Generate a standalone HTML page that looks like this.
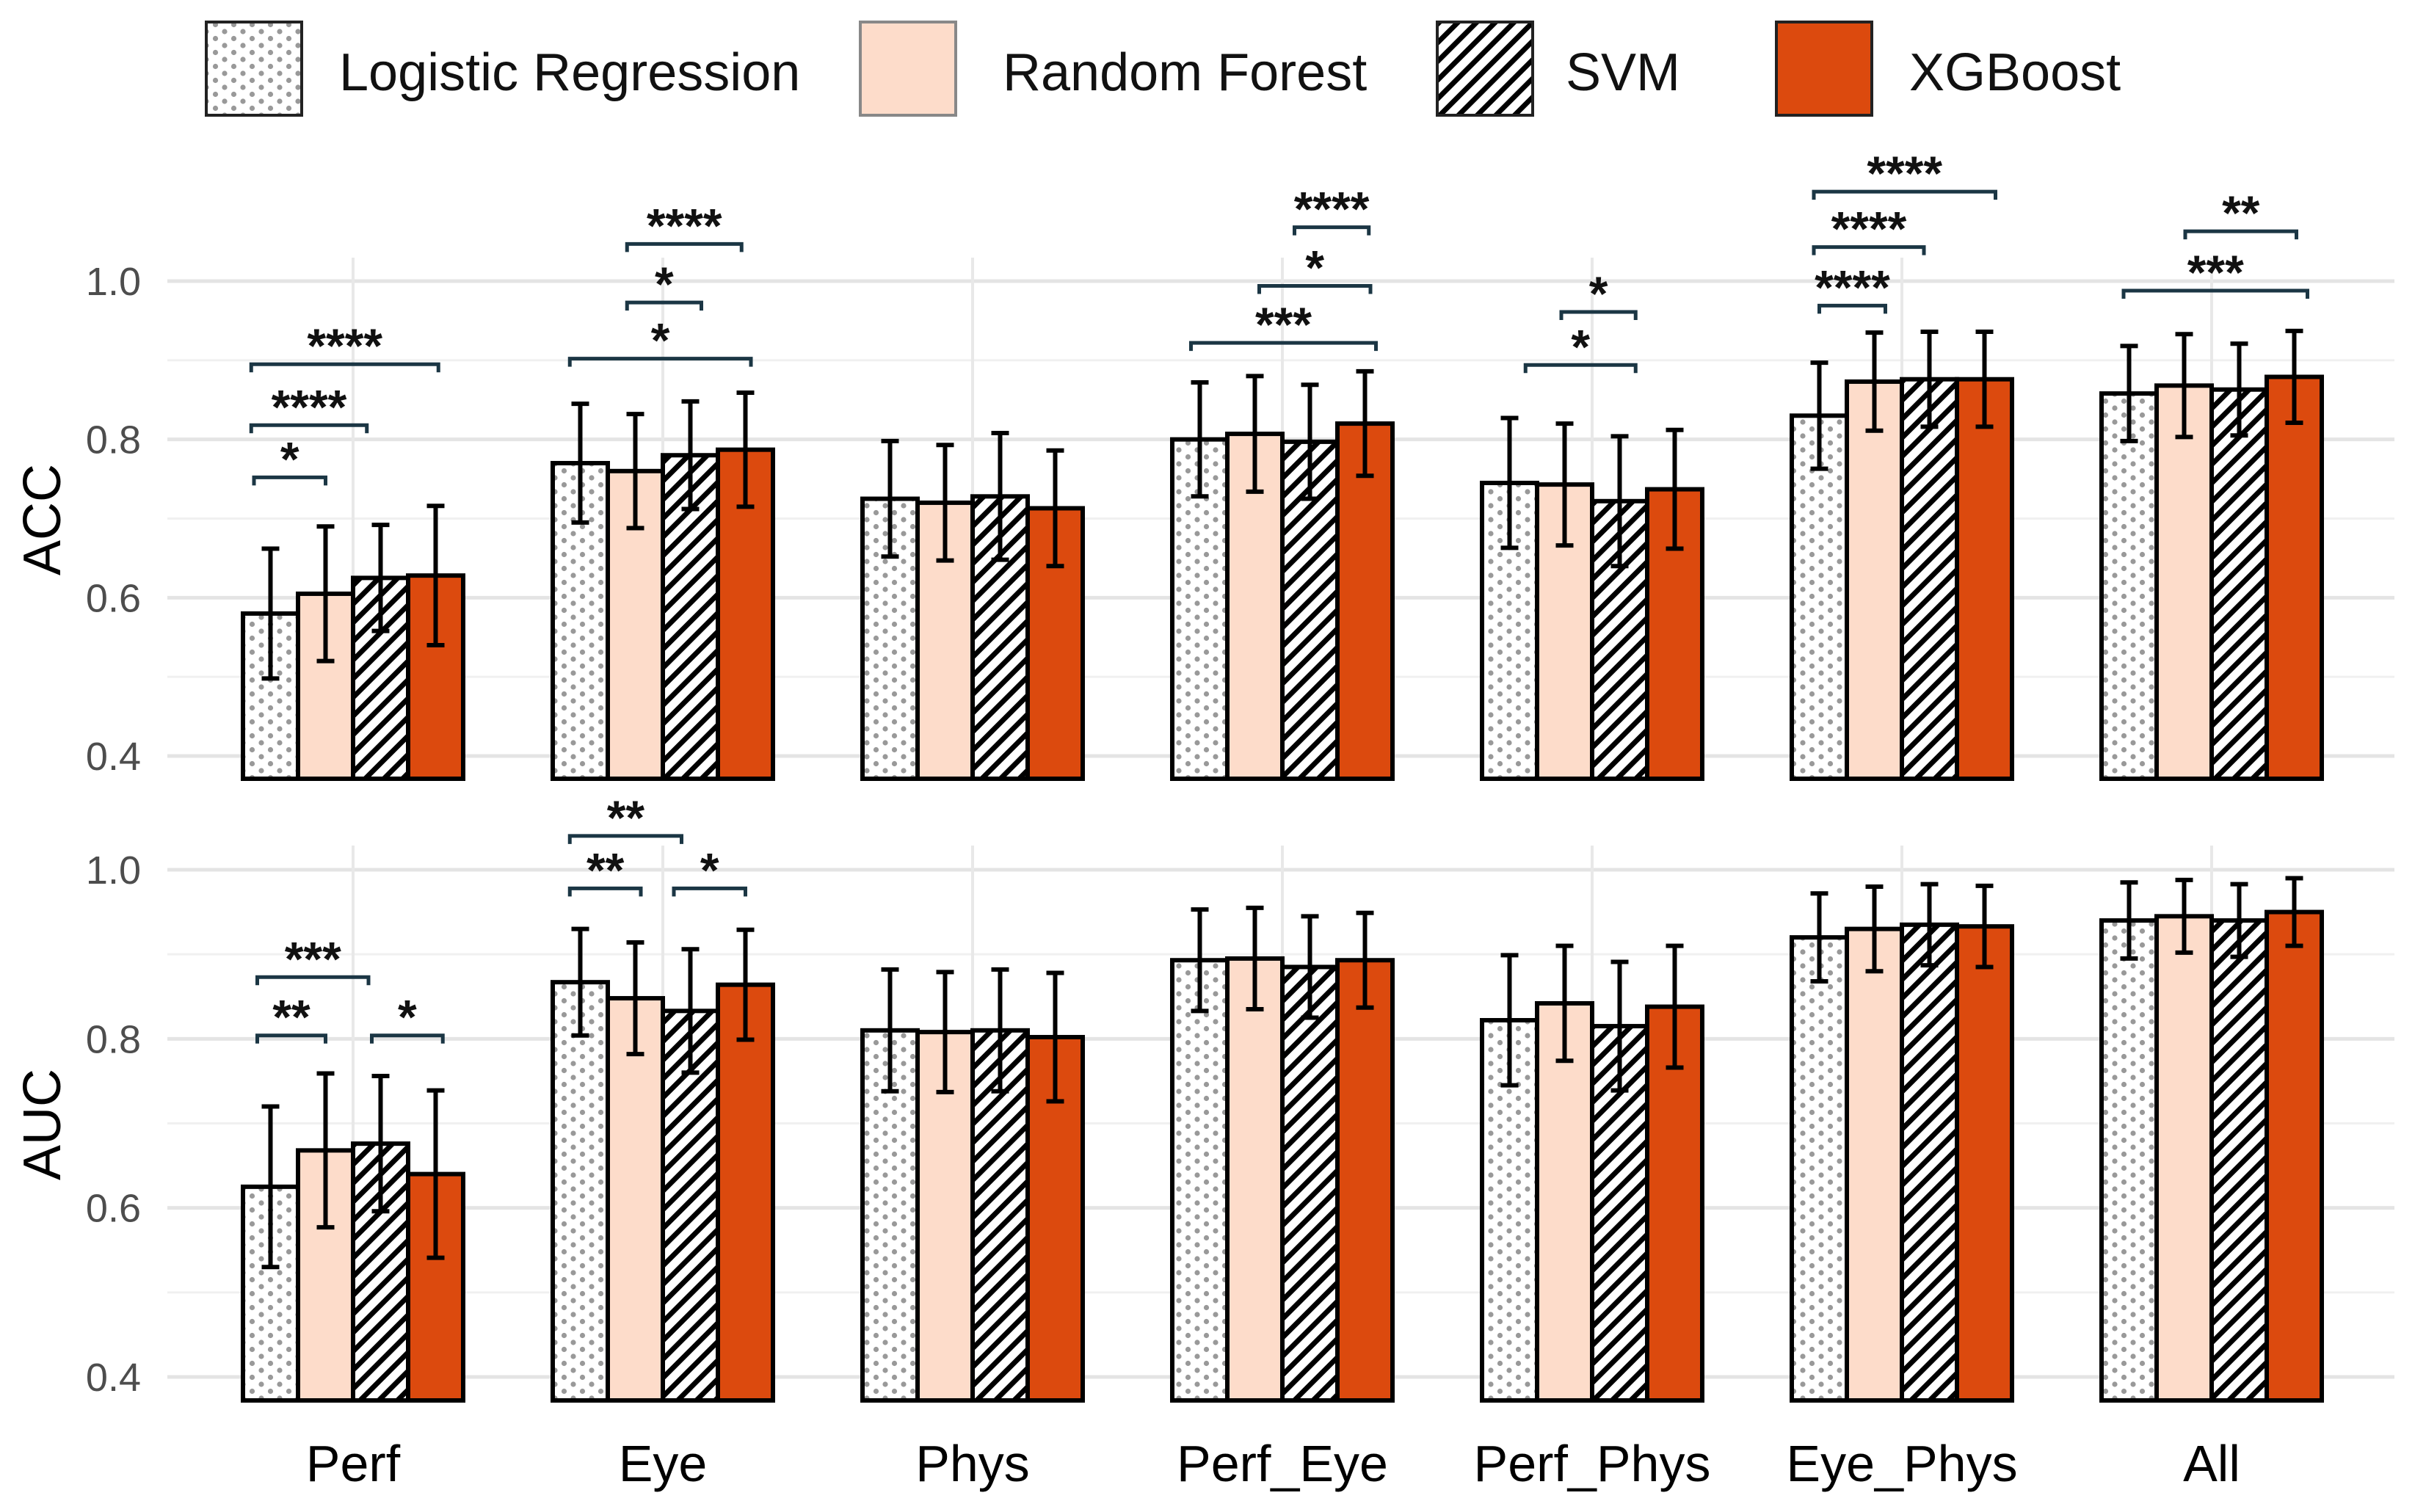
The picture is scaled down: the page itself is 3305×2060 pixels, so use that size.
<!DOCTYPE html>
<html><head><meta charset="utf-8"><style>
html,body{margin:0;padding:0;background:#fff;}
svg{display:block;font-family:"Liberation Sans",Arial,sans-serif;}
</style></head><body>
<svg id="chart" width="3305" height="2060" viewBox="0 0 3305 2060" xmlns="http://www.w3.org/2000/svg">
<defs>
<pattern id="dots" patternUnits="userSpaceOnUse" width="25" height="19">
<rect width="25" height="19" fill="#fff"/>
<circle cx="6" cy="5" r="3.6" fill="#999"/>
<circle cx="18.5" cy="14.5" r="3.6" fill="#999"/>
</pattern>
<pattern id="hatch" patternUnits="userSpaceOnUse" width="18" height="18" patternTransform="rotate(45)">
<rect width="18" height="18" fill="#fff"/>
<line x1="4" y1="0" x2="4" y2="18" stroke="#000" stroke-width="7"/>
</pattern>
</defs>
<g id="legend"></g>
<g id="panels"></g>
</svg>
<script>
const categories = ["Perf","Eye","Phys","Perf_Eye","Perf_Phys","Eye_Phys","All"];
const models = ["Logistic Regression","Random Forest","SVM","XGBoost"];
const accValues = [
 [0.580,0.605,0.625,0.628],
 [0.770,0.760,0.780,0.787],
 [0.725,0.720,0.728,0.713],
 [0.800,0.807,0.797,0.820],
 [0.745,0.743,0.722,0.737],
 [0.830,0.873,0.876,0.876],
 [0.858,0.868,0.863,0.879]];
const accErr = [
 [0.082,0.085,0.067,0.088],
 [0.075,0.072,0.068,0.072],
 [0.073,0.073,0.080,0.073],
 [0.072,0.073,0.072,0.066],
 [0.082,0.077,0.082,0.075],
 [0.067,0.062,0.060,0.060],
 [0.060,0.065,0.058,0.058]];
const aucValues = [
 [0.625,0.668,0.676,0.640],
 [0.867,0.848,0.833,0.864],
 [0.810,0.808,0.810,0.802],
 [0.893,0.895,0.885,0.893],
 [0.822,0.842,0.815,0.838],
 [0.920,0.930,0.935,0.933],
 [0.940,0.945,0.940,0.950]];
const aucErr = [
 [0.095,0.091,0.080,0.099],
 [0.063,0.066,0.073,0.065],
 [0.072,0.071,0.072,0.076],
 [0.060,0.060,0.060,0.056],
 [0.077,0.068,0.076,0.072],
 [0.052,0.050,0.048,0.048],
 [0.045,0.043,0.043,0.040]];
const yTicks = [0.4,0.6,0.8,1.0];
const yTickLabels = ["0.4","0.6","0.8","1.0"];
const yMinor = [0.5,0.7,0.9];
// brackets: [category index, from bar pos, to bar pos, y value, label]
const accBrackets = [
 [0,-0.3,1.0,0.752,"*"],[0,-0.35,1.75,0.818,"****"],[0,-0.35,3.05,0.895,"****"],
 [1,0.85,2.93,1.047,"****"],[1,0.85,2.2,0.973,"*"],[1,-0.19,3.1,0.902,"*"],
 [3,1.72,3.07,1.068,"****"],[3,1.08,3.1,0.994,"*"],[3,-0.16,3.2,0.922,"***"],
 [4,0.94,2.29,0.961,"*"],[4,0.29,2.29,0.894,"*"],
 [5,-0.1,3.2,1.113,"****"],[5,-0.1,1.9,1.043,"****"],[5,0,1.2,0.969,"****"],
 [6,1.02,3.04,1.063,"**"],[6,-0.1,3.24,0.988,"***"]];
const aucBrackets = [
 [0,-0.24,1.78,0.873,"***"],[0,-0.24,1.0,0.804,"**"],[0,1.84,3.13,0.804,"*"],
 [1,-0.19,1.84,1.04,"**"],[1,-0.19,1.1,0.978,"**"],[1,1.7,3.0,0.978,"*"]];

const NS="http://www.w3.org/2000/svg";
const fills=["url(#dots)","#fddcca","url(#hatch)","#dc4a0e"];
function mk(tag,attrs,parent){const e=document.createElementNS(NS,tag);for(const k in attrs)e.setAttribute(k,attrs[k]);parent.appendChild(e);return e;}
const xLeft=228,xRight=3262,gc0=481,gstep=422,bw=75;
function xCenter(ci){return gc0+ci*gstep;}
function xBar(ci,p){return xCenter(ci)+(p-1.5)*bw;}

function drawPanel(name,title,values,errs,brackets,y1,y04,top,bottom,titleY){
 const g=mk("g",{},document.getElementById("panels"));
 
 
 const sc=(y04-y1)/0.6;
 const y=v=>y1+(1-v)*sc;
 yMinor.forEach(v=>{const l=mk("line",{x1:xLeft,x2:xRight,y1:y(v),y2:y(v),stroke:"#f0f0f0","stroke-width":3},g);
  });
 yTicks.forEach((v,i)=>{const l=mk("line",{x1:xLeft,x2:xRight,y1:y(v),y2:y(v),stroke:"#e4e4e4","stroke-width":5},g);
  
  const t=mk("text",{x:192,y:y(v)+19,"text-anchor":"end","font-size":54,fill:"#4d4d4d"},g);t.textContent=yTickLabels[i];
  });
 categories.forEach((c,ci)=>{const l=mk("line",{x1:xCenter(ci),x2:xCenter(ci),y1:top,y2:bottom,stroke:"#e8e8e8","stroke-width":4},g);
  });
 const tt=mk("text",{x:0,y:0,"text-anchor":"middle","font-size":72,fill:"#000",transform:`translate(82,${titleY}) rotate(-90)`},g);
 tt.textContent=title;
 values.forEach((row,ci)=>{row.forEach((v,mi)=>{
  const x=xBar(ci,mi)-bw/2;
  const r=mk("rect",{x:x,y:y(v),width:bw,height:bottom-y(v),fill:fills[mi],stroke:"#000","stroke-width":6},g);
  
  
  const xc=xBar(ci,mi),e=errs[ci][mi];
  const eb=mk("path",{d:`M${xc-12},${y(v+e)}H${xc+12}M${xc},${y(v+e)}V${y(v-e)}M${xc-12},${y(v-e)}H${xc+12}`,stroke:"#000","stroke-width":6,fill:"none"},g);
  
 });});
 brackets.forEach(b=>{const [ci,p0,p1,v,lab]=b;const x0=xBar(ci,p0),x1=xBar(ci,p1),yy=y(v);
  const p=mk("path",{d:`M${x0},${yy+11}V${yy}H${x1}V${yy+11}`,stroke:"#1b3644","stroke-width":5,fill:"none"},g);
  
  const t=mk("text",{x:(x0+x1)/2,y:yy-2,"text-anchor":"middle","font-size":66,"font-weight":"bold",fill:"#111"},g);
  t.textContent=lab;});
}
drawPanel("acc","ACC",accValues,accErr,accBrackets,383,1030,351,1061,708);
drawPanel("auc","AUC",aucValues,aucErr,aucBrackets,1185,1876,1152,1908,1532);
const pg=document.getElementById("panels");
categories.forEach((c,ci)=>{const t=mk("text",{x:xCenter(ci),y:2018,"text-anchor":"middle","font-size":70,fill:"#000"},pg);
 t.textContent=c;});
const lg=document.getElementById("legend");
const boxX=[281,1172,1958,2420],textX=[462,1366,2133,2601];
models.forEach((m,i)=>{const r=mk("rect",{x:boxX[i],y:30,width:130,height:127,fill:fills[i],stroke:i==1?"#888":"#222","stroke-width":4},lg);
 
 const t=mk("text",{x:textX[i],y:123,"font-size":72,fill:"#111"},lg);t.textContent=m;
 });
</script>
</body></html>
